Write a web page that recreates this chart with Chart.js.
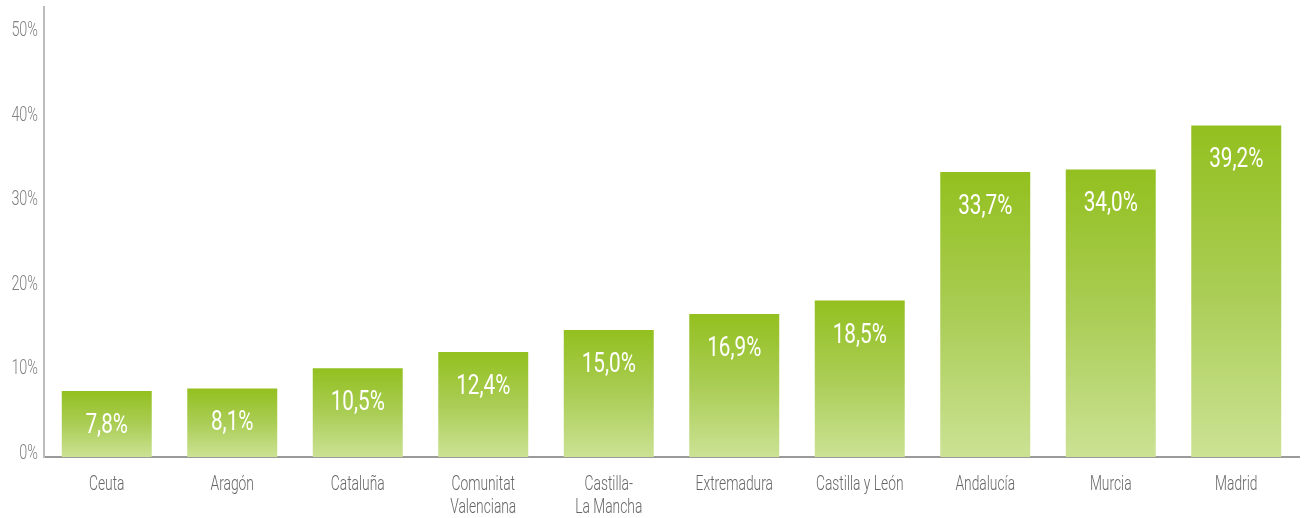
<!DOCTYPE html>
<html>
<head>
<meta charset="utf-8">
<script src="https://cdn.jsdelivr.net/npm/chart.js@4/dist/chart.umd.min.js"></script>
<style>
  html, body { margin: 0; padding: 0; background: #ffffff; }
  #wrap { position: relative; width: 1304px; height: 518px; }
</style>
</head>
<body>
<div id="wrap"><canvas id="chart" width="1304" height="518"></canvas></div>
<script>
// Share of population by region (%)
const regions = [
  'Ceuta', 'Aragón', 'Cataluña', ['Comunitat', 'Valenciana'], ['Castilla-', 'La Mancha'],
  'Extremadura', 'Castilla y León', 'Andalucía', 'Murcia', 'Madrid'
];
const shares = [7.8, 8.1, 10.5, 12.4, 15.0, 16.9, 18.5, 33.7, 34.0, 39.2];
const yTickValues = [0, 10, 20, 30, 40, 50];

const FONT = 'Roboto, "Open Sans", sans-serif';

function fmtPct(v) {
  return v.toFixed(1).replace('.', ',') + '%';
}

// Narrow lettering: draw text squeezed horizontally around its anchor point
function narrowText(ctx, text, x, y, sx) {
  ctx.save();
  ctx.translate(x, y);
  ctx.scale(sx, 1);
  ctx.fillText(text, 0, 0);
  ctx.restore();
}

// Vertical gradient per bar: deep green at the top fading to pale green at the base
function barGradient(ctx) {
  const chart = ctx.chart;
  const y = chart.scales && chart.scales.y;
  if (!y || ctx.dataIndex === undefined) return '#a8ca4c';
  const top = y.getPixelForValue(shares[ctx.dataIndex]);
  const base = y.getPixelForValue(0);
  if (!isFinite(top) || !isFinite(base) || top === base) return '#a8ca4c';
  const g = chart.ctx.createLinearGradient(0, top, 0, base);
  g.addColorStop(0, '#93c01f');
  g.addColorStop(0.5, '#aacd55');
  g.addColorStop(1, '#cbe294');
  return g;
}

// Axis labels and in-bar value labels, set in a condensed style
const narrowLabels = {
  id: 'narrowLabels',
  afterDraw(chart) {
    const { ctx } = chart;
    const xs = chart.scales.x;
    const ys = chart.scales.y;
    ctx.save();

    // category labels under the axis
    ctx.fillStyle = '#666666';
    ctx.font = '300 20px ' + FONT;
    ctx.textAlign = 'center';
    ctx.textBaseline = 'middle';
    const firstLine = xs.top + 28;
    regions.forEach((lab, i) => {
      const lines = Array.isArray(lab) ? lab : [lab];
      const x = xs.getPixelForTick(i);
      lines.forEach((ln, j) => narrowText(ctx, ln, x, firstLine + j * 23, 0.69));
    });

    // percentage ticks on the value axis
    ctx.fillStyle = '#808080';
    ctx.font = '300 20px ' + FONT;
    ctx.textAlign = 'right';
    ys.ticks.forEach(t => {
      narrowText(ctx, t.value + '%', ys.right - 6, ys.getPixelForValue(t.value) - 3, 0.72);
    });

    // values inside the bars
    ctx.fillStyle = '#ffffff';
    ctx.font = '400 28px ' + FONT;
    ctx.textAlign = 'center';
    chart.getDatasetMeta(0).data.forEach((bar, i) => {
      narrowText(ctx, fmtPct(shares[i]), bar.x, bar.y + 35, 0.74);
    });

    ctx.restore();
  }
};

new Chart(document.getElementById('chart'), {
  type: 'bar',
  data: {
    labels: regions,
    datasets: [{
      data: shares,
      backgroundColor: barGradient,
      borderWidth: 0,
      barPercentage: 0.717,
      categoryPercentage: 1.0
    }]
  },
  options: {
    responsive: false,
    animation: false,
    layout: { padding: { top: 7, right: 5, left: 0, bottom: 0 } },
    plugins: {
      legend: { display: false },
      tooltip: { enabled: false }
    },
    scales: {
      x: {
        grid: { display: false, drawTicks: false },
        border: { display: true, color: '#9a9a9a', width: 2 },
        afterFit(scale) { scale.height = 61; scale.paddingLeft = 0; scale.paddingRight = 0; },
        ticks: { display: false, autoSkip: false }
      },
      y: {
        min: 0,
        max: 53.2,
        afterBuildTicks(scale) {
          scale.ticks = yTickValues.map(v => ({ value: v }));
        },
        afterFit(scale) {
          scale.width = 44;
          scale.paddingTop = 0;
          scale.paddingBottom = 0;
        },
        grid: { display: false, drawTicks: false },
        border: { display: true, color: '#bdbdbd', width: 2 },
        ticks: { display: false }
      }
    }
  },
  plugins: [narrowLabels]
});
</script>
</body>
</html>
